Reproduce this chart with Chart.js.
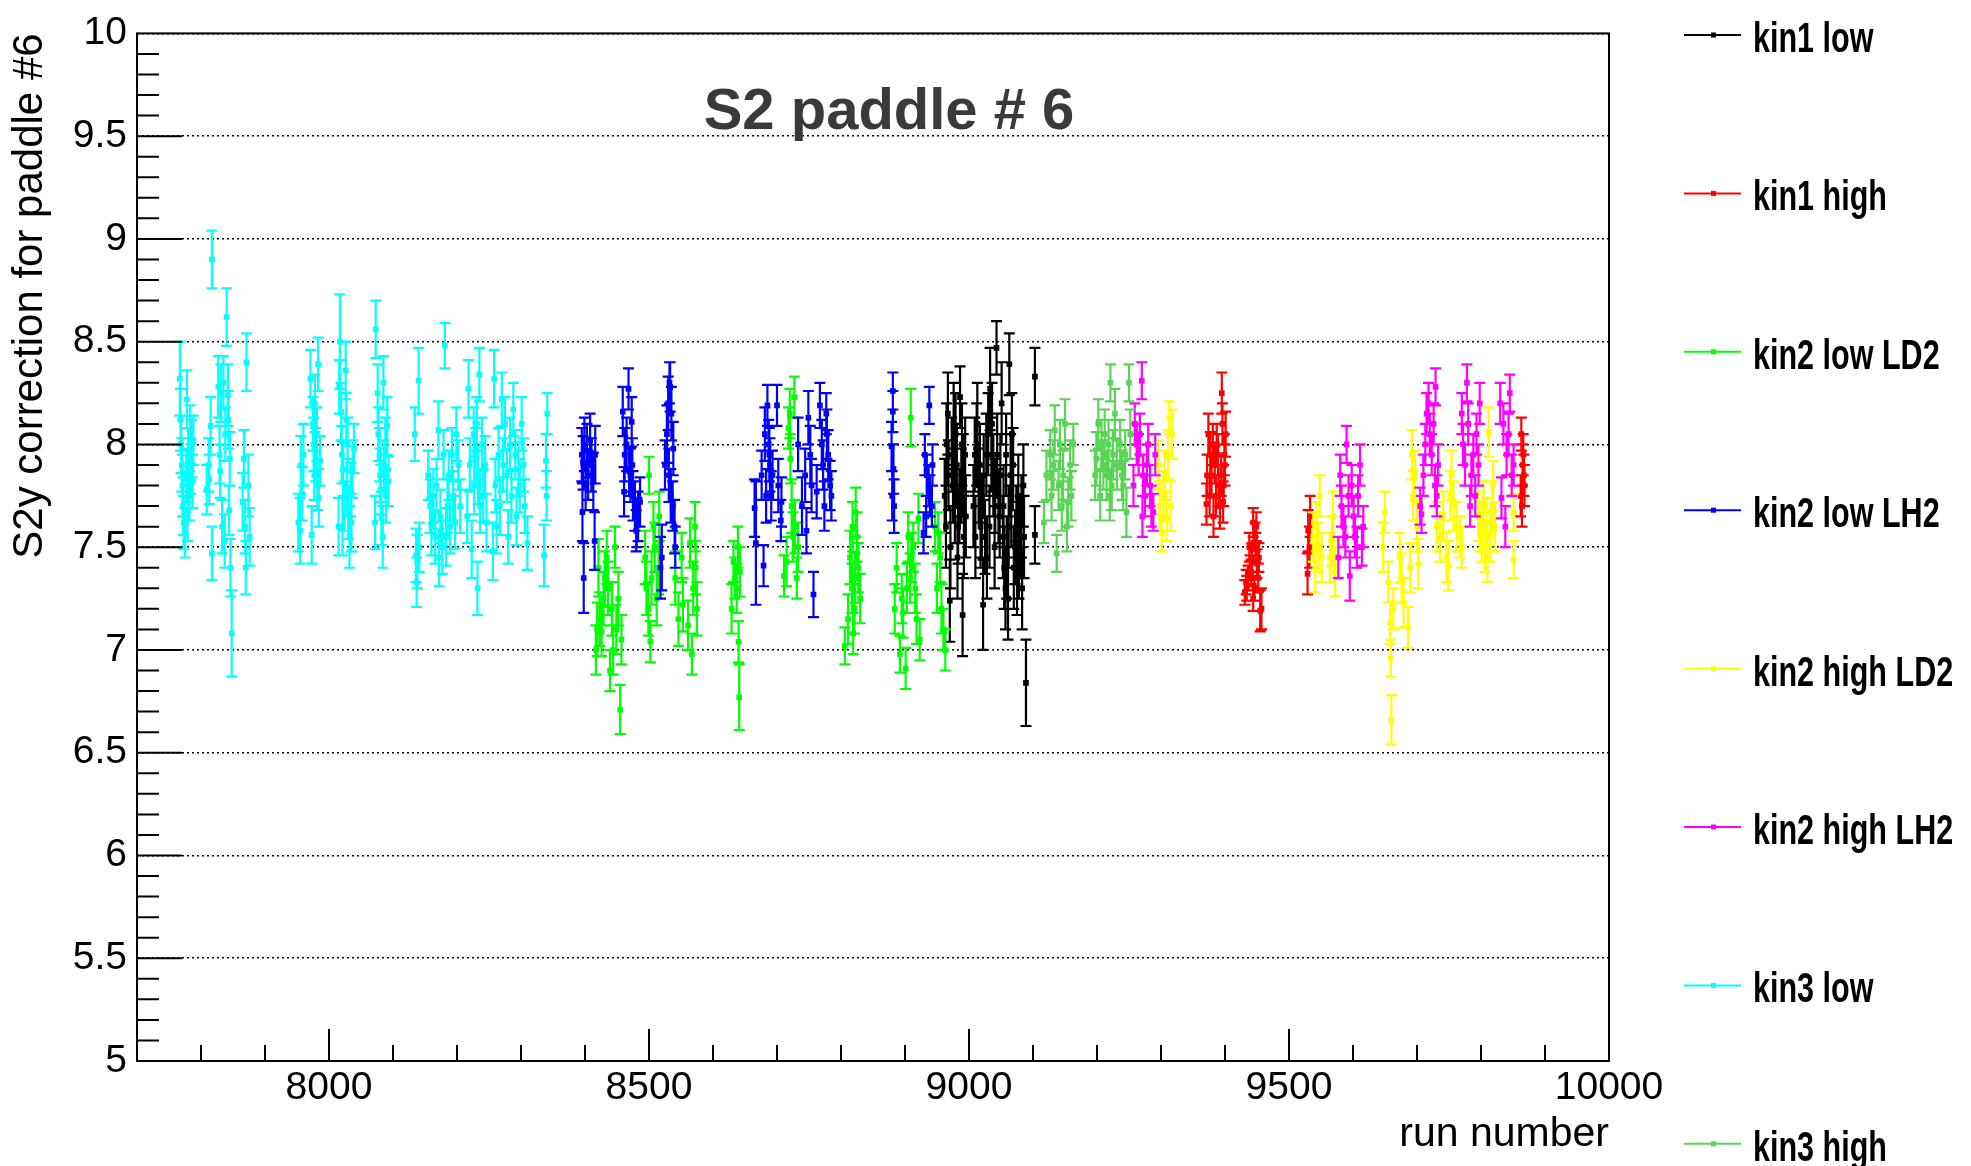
<!DOCTYPE html>
<html>
<head>
<meta charset="utf-8">
<script src="https://cdn.jsdelivr.net/npm/chart.js@4.4.1/dist/chart.umd.min.js"></script>
<style>
  html, body { margin: 0; padding: 0; background: #fff; }
  #wrap { width: 1971px; height: 1166px; }
</style>
</head>
<body>
<div id="wrap"><canvas id="c" width="1971" height="1166"></canvas></div>
<script>
// ---------------- DATA ----------------
const chartTitle = 'S2 paddle # 6';
const xAxisTitle = 'run number';
const yAxisTitle = 'S2y correction for paddle #6';
const xTickValues = [8000, 8500, 9000, 9500, 10000];
const yTickValues = [5, 5.5, 6, 6.5, 7, 7.5, 8, 8.5, 9, 9.5, 10];
const seriesNames = ['kin1 low', 'kin1 high', 'kin2 low LD2', 'kin2 low LH2',
                     'kin2 high LD2', 'kin2 high LH2', 'kin3 low', 'kin3 high'];
const seriesColors = ['#000000', '#ff0000', '#00ff00', '#0000ff',
                      '#ffff00', '#ff00ff', '#00ffff', '#59d454'];

// kin1 low
const kin1LowRuns = [8962,8965,8968,8970,8973,8976,8978,8981,8983,8986,8988,8990,8992,8994,
  9007,9009,9012,9015,9017,9020,9022,9025,9028,9030,9033,9035,9038,9041,9043,9046,9048,9051,9053,9055,
  9057,9059,9062,9063,9065,9067,9069,9072,9075,9077,9080,9082,9085,9089,9103,9103,
  8964,8967,8971,8975,8979,8982,8985,8989,8991,8995,9010,9013,9018,9023,9027,9032,9036,9040,9044,
  9049,9054,9058,9061,9066,9070,9074,9078,9083,9086];
const kin1LowVals = [7.75,8.0,7.85,7.24,7.95,8.1,7.7,7.9,7.6,8.23,7.8,7.17,7.55,7.95,
  7.7,7.95,8.0,7.8,7.9,7.65,7.22,7.55,7.45,8.05,8.27,7.95,7.85,7.75,8.47,7.7,7.65,8.2,7.55,7.4,
  7.3,7.45,7.6,8.39,7.85,8.05,7.9,7.5,7.35,7.75,7.55,7.65,7.8,6.84,8.33,7.56,
  7.6,8.15,7.5,7.8,8.05,7.45,7.7,8.0,7.85,7.65,7.55,8.1,7.6,7.85,7.95,7.6,8.1,7.5,7.95,
  7.85,7.7,7.95,7.25,7.7,7.4,7.6,7.45,7.3,7.55];
const kin1LowErrs = [0.18,0.2,0.17,0.2,0.18,0.2,0.18,0.2,0.18,0.15,0.18,0.2,0.2,0.18,
  0.2,0.18,0.2,0.18,0.2,0.2,0.22,0.18,0.2,0.2,0.2,0.18,0.2,0.18,0.13,0.18,0.2,0.2,0.2,0.2,
  0.2,0.2,0.2,0.15,0.2,0.2,0.18,0.18,0.18,0.2,0.2,0.2,0.2,0.21,0.14,0.14,
  0.2,0.2,0.2,0.18,0.2,0.2,0.18,0.2,0.2,0.2,0.2,0.2,0.2,0.2,0.2,0.2,0.2,0.2,0.2,
  0.2,0.2,0.2,0.2,0.2,0.2,0.2,0.2,0.2,0.2];

// kin1 high
const kin1HighRuns = [9371,9374,9377,9379,9382,9384,9387,9390,9392,9395,9396,9397,9399,9401,
  9431,9434,9436,9439,9442,9444,9444,9447,9448,9450,9452,9455,9457,
  9529,9530,9532,9533,
  9862,9863,9864,9865,9866,9867,9868,
  9433,9438,9441,9446,9449,9453,
  9372,9376,9381,9386,9389,9394,9398,9400];
const kin1HighVals = [7.71,8.05,7.95,7.85,7.65,7.9,8.0,7.8,7.7,8.25,8.1,7.72,7.95,8.05,
  7.28,7.3,7.35,7.4,7.45,7.62,7.25,7.55,7.5,7.42,7.35,7.19,7.2,
  7.37,7.58,7.5,7.65,
  7.75,8.05,7.7,7.9,7.95,7.85,7.8,
  7.33,7.5,7.38,7.3,7.6,7.45,
  7.85,7.75,8.0,7.75,7.95,7.85,7.8,7.9];
const kin1HighErrs = [0.1,0.1,0.11,0.1,0.1,0.09,0.1,0.1,0.11,0.1,0.1,0.1,0.1,0.11,
  0.06,0.06,0.06,0.06,0.07,0.07,0.06,0.07,0.07,0.07,0.07,0.1,0.1,
  0.1,0.1,0.1,0.1,
  0.1,0.08,0.1,0.1,0.1,0.1,0.1,
  0.06,0.07,0.06,0.06,0.07,0.07,
  0.1,0.1,0.1,0.1,0.1,0.1,0.1,0.1];

// kin2 low LD2
const kin2LowLD2Runs = [8417,8419,8421,8423,8426,8429,8431,8434,8436,8439,8442,8444,8447,8449,8452,8455,8457,
  8494,8496,8499,8500,8502,8504,8507,8509,8512,8515,8516,
  8541,8546,8551,8553,8561,8564,8567,8569,8572,8573,8575,
  8629,8632,8634,8637,8639,8640,8641,8642,
  8711,8715,8718,8720,8721,8723,8725,8727,8728,8731,8733,
  8806,8811,8814,8817,8818,8819,8821,8822,8823,8825,8827,8830,
  8884,8887,8892,8895,8897,8901,8903,8905,8908,8909,8910,8913,8916,8918,8921,8923,
  8947,8950,8952,8955,8957,8960,8963];
const kin2LowLD2Vals = [7.0,7.1,7.4,7.15,7.09,7.25,7.35,7.45,7.3,6.9,7.2,7.0,7.5,7.1,7.25,6.71,7.05,
  7.45,7.3,7.2,7.85,7.04,7.35,7.6,7.5,7.25,7.4,7.65,
  7.35,7.15,7.45,7.22,7.12,7.52,6.98,7.3,7.6,7.4,7.2,
  7.2,7.43,7.35,7.3,7.5,7.04,6.77,7.38,
  7.36,7.43,8.08,8.15,7.93,7.7,7.55,8.23,7.6,7.35,7.5,
  7.02,7.15,7.45,7.3,7.6,7.08,7.2,7.35,7.67,7.55,7.4,7.25,
  7.2,7.4,6.98,7.25,7.18,6.91,7.3,7.55,7.35,8.13,7.45,7.5,7.3,7.15,7.64,7.05,
  7.6,7.3,7.57,7.45,7.2,7.1,7.0];
const kin2LowLD2Errs = [0.12,0.13,0.14,0.13,0.12,0.13,0.13,0.13,0.13,0.1,0.13,0.12,0.1,0.12,0.13,0.12,0.12,
  0.13,0.13,0.13,0.09,0.1,0.13,0.12,0.12,0.13,0.13,0.12,
  0.13,0.13,0.12,0.13,0.12,0.12,0.1,0.13,0.12,0.13,0.13,
  0.12,0.1,0.1,0.12,0.1,0.1,0.16,0.12,
  0.1,0.12,0.1,0.12,0.12,0.13,0.12,0.1,0.13,0.1,0.12,
  0.09,0.12,0.13,0.12,0.12,0.1,0.12,0.12,0.12,0.12,0.12,0.12,
  0.12,0.12,0.09,0.12,0.12,0.1,0.12,0.12,0.12,0.14,0.12,0.12,0.12,0.12,0.12,0.1,
  0.12,0.12,0.1,0.12,0.12,0.1,0.1];

// kin2 low LH2
const kin2LowLH2Runs = [8395,8396,8397,8398,8399,8401,8403,8405,8408,8410,8413,8415,8416,
  8459,8461,8462,8465,8468,8469,8471,8473,8474,8475,8478,8480,8481,8483,8486,
  8518,8520,8525,8528,8530,8531,8532,8533,8534,8535,8537,8538,8540,8541,
  8665,8667,8676,8679,8681,8683,8685,8687,8688,8689,8691,8693,8700,8702,8706,8707,
  8733,8739,8744,8746,8749,8752,8754,8757,8762,8767,8770,8772,8774,8777,8778,8780,8783,8785,
  8879,8880,8881,8881,8882,8883,
  8929,8931,8933,8934,8937,8938,8939,8942,8943];
const kin2LowLH2Vals = [7.95,7.67,7.91,7.35,8.0,7.8,7.97,7.85,8.02,7.9,7.82,7.53,7.95,
  8.16,7.77,7.95,8.0,8.27,7.87,7.85,8.11,7.9,7.75,7.7,7.58,7.62,7.65,7.72,
  7.4,7.45,7.9,8.05,8.2,7.85,8.3,8.28,7.75,8.15,7.7,7.98,7.6,7.5,
  7.69,7.52,7.85,7.41,8.05,7.75,8.19,8.0,7.95,7.9,7.75,7.85,8.19,7.8,7.63,7.72,
  8.0,7.7,7.85,7.58,8.13,7.95,7.8,7.27,7.77,8.19,8.0,7.9,7.7,8.15,8.05,7.95,7.8,7.75,
  7.99,7.75,8.26,8.16,7.88,7.7,
  7.57,7.95,7.65,7.85,7.8,8.19,7.75,7.7,7.9];
const kin2LowLH2Errs = [0.13,0.14,0.13,0.17,0.13,0.12,0.13,0.12,0.13,0.13,0.14,0.14,0.14,
  0.12,0.12,0.13,0.13,0.1,0.12,0.13,0.12,0.13,0.12,0.12,0.1,0.12,0.12,0.12,
  0.15,0.16,0.12,0.14,0.13,0.13,0.1,0.12,0.13,0.13,0.12,0.13,0.13,0.1,
  0.14,0.3,0.12,0.1,0.13,0.13,0.1,0.12,0.13,0.13,0.12,0.12,0.1,0.13,0.1,0.12,
  0.13,0.14,0.13,0.11,0.13,0.14,0.13,0.11,0.13,0.11,0.12,0.12,0.12,0.1,0.12,0.12,0.12,0.12,
  0.12,0.12,0.09,0.1,0.12,0.13,
  0.1,0.1,0.1,0.1,0.1,0.09,0.1,0.1,0.1];

// kin2 high LD2
const kin2HighLD2Runs = [9296,9298,9301,9304,9306,9309,9311,9313,9315,9317,
  9538,9541,9543,9546,9548,9551,9564,9567,9569,9572,
  9647,9650,9655,9658,9659,9660,9663,9673,9676,9679,9686,9689,9692,9694,9697,9700,9702,
  9731,9736,9741,9746,9749,9752,9754,9757,9762,9767,9770,
  9796,9798,9801,9804,9806,9809,9810,9812,9814,9817,9819,9822,
  9851,9851];
const kin2HighLD2Vals = [7.9,7.7,7.57,7.75,7.85,7.65,7.95,8.13,7.7,8.05,
  7.55,7.4,7.6,7.5,7.75,7.45,7.45,7.53,7.65,7.38,
  7.5,7.67,7.33,7.13,6.96,6.66,7.2,7.45,7.35,7.23,7.11,7.4,7.95,7.75,7.85,7.6,7.42,
  7.6,7.55,7.65,7.45,7.41,7.75,7.85,7.7,7.6,7.55,7.5,
  7.65,7.6,7.55,7.7,7.5,7.62,7.45,8.06,7.55,7.7,7.8,7.6,
  7.67,7.44];
const kin2HighLD2Errs = [0.12,0.12,0.09,0.12,0.12,0.12,0.12,0.08,0.12,0.12,
  0.12,0.12,0.12,0.12,0.1,0.12,0.12,0.12,0.12,0.12,
  0.12,0.1,0.1,0.1,0.09,0.12,0.1,0.12,0.12,0.12,0.1,0.12,0.12,0.12,0.12,0.12,0.12,
  0.12,0.12,0.12,0.12,0.12,0.12,0.12,0.12,0.12,0.1,0.1,
  0.12,0.12,0.12,0.12,0.12,0.12,0.12,0.12,0.12,0.12,0.12,0.12,
  0.09,0.09];

// kin2 high LH2
const kin2HighLH2Runs = [9257,9259,9262,9265,9267,9270,9271,9272,9275,9278,9280,9283,9285,9288,9291,
  9577,9580,9582,9585,9588,9590,9593,9595,9598,9601,9603,9606,9608,9611,9614,9616,
  9705,9707,9710,9713,9715,9718,9720,9723,9726,9728,9729,9731,9733,
  9770,9772,9775,9778,9780,9783,9785,9788,9791,9793,9796,9798,
  9830,9832,9835,9838,9840,9843,9845,9848,9851];
const kin2HighLH2Vals = [7.8,8.1,8.0,7.95,8.05,8.31,7.65,7.85,7.75,7.9,8.0,7.8,7.7,7.67,7.95,
  7.45,7.85,7.7,7.6,7.55,8.0,7.75,7.36,7.8,7.65,7.55,7.5,7.75,7.9,7.5,7.6,
  7.7,7.66,7.85,8.0,8.15,8.2,8.05,7.95,8.1,7.8,8.28,7.75,7.9,
  8.15,8.0,7.9,8.3,8.1,7.7,7.85,7.95,7.75,8.05,7.9,8.2,
  8.2,7.74,8.1,7.6,7.95,8.05,8.25,7.85,7.9];
const kin2HighLH2Errs = [0.1,0.1,0.1,0.1,0.1,0.09,0.1,0.1,0.1,0.1,0.1,0.1,0.1,0.09,0.1,
  0.1,0.1,0.1,0.1,0.1,0.09,0.1,0.12,0.1,0.1,0.1,0.1,0.1,0.1,0.09,0.1,
  0.09,0.09,0.1,0.1,0.1,0.1,0.1,0.1,0.1,0.1,0.09,0.1,0.1,
  0.1,0.1,0.1,0.09,0.1,0.1,0.1,0.1,0.1,0.1,0.1,0.1,
  0.1,0.1,0.1,0.1,0.1,0.1,0.09,0.1,0.1];

// kin3 low
const kin3LowRuns = [7767,7768,7769,7770,7771,7772,7773,7775,7777,7778,7779,7780,7782,7783,7784,7785,7787,7788,
  7809,7812,7813,7815,7817,7817,7827,7829,7830,7831,7833,7835,7837,7838,7840,7842,7843,7844,7845,7846,7848,
  7865,7867,7869,7870,7871,7874,7876,
  7952,7955,7956,7958,7960,7971,7973,7975,7976,7977,7978,7979,7981,7982,7983,7984,7986,
  8015,8016,8017,8019,8020,8021,8022,8024,8026,8027,8028,8029,8030,8032,8034,8035,8037,8039,
  8072,8073,8076,8077,8079,8080,8081,8082,8084,8085,8086,8088,8089,8091,8093,
  8134,8136,8137,8138,8140,8141,
  8155,8158,8160,8163,8166,8168,8171,8172,8174,8177,8179,8181,8183,8185,8187,8189,8192,8194,8197,8199,8202,8205,
  8216,8218,8220,8223,8226,8227,8229,8231,8232,8233,8235,8236,8239,8241,8244,8246,
  8256,8258,8260,8262,8265,8267,8270,8272,8275,8278,8280,8283,8285,8288,8291,8293,8296,8298,8301,8304,8306,8310,
  8336,8339,8340,8341];
const kin3LowVals = [8.32,8.12,8.0,7.9,7.8,7.7,7.62,7.57,7.85,8.22,7.68,7.95,7.75,8.05,7.88,7.98,7.82,8.02,
  7.78,7.9,7.83,8.09,8.9,7.47,8.28,7.95,7.87,8.25,7.6,8.3,7.53,8.05,8.62,8.24,8.12,7.68,7.93,7.4,7.08,
  7.72,7.93,7.6,7.4,8.4,7.8,7.55,
  7.62,7.58,7.9,7.76,7.95,8.32,7.56,8.1,8.0,7.85,8.2,7.95,8.05,7.8,8.39,7.74,7.92,
  7.6,8.28,8.5,8.16,7.95,7.6,7.88,7.7,8.36,8.12,7.79,8.0,7.67,7.55,7.78,7.62,7.88,7.98,
  7.62,8.56,8.25,8.05,7.95,7.85,7.78,7.64,7.55,8.3,7.9,8.0,7.75,8.09,7.82,
  8.05,7.46,7.33,7.43,8.31,7.5,
  7.85,7.7,7.6,7.75,7.55,7.8,8.07,7.45,7.65,7.5,7.95,8.48,7.55,7.7,7.85,7.6,7.95,7.75,7.62,8.05,7.9,7.7,
  7.65,8.27,7.9,7.49,8.05,7.8,7.95,8.1,7.3,7.85,8.34,7.7,8.0,7.75,7.9,7.62,
  7.48,8.32,7.8,7.6,7.95,7.7,8.22,7.9,8.1,7.85,7.55,8.0,7.75,8.17,7.95,7.65,7.88,7.8,8.1,7.9,7.7,7.52,
  7.46,7.92,7.75,8.15];
const kin3LowErrs = [0.18,0.15,0.14,0.13,0.15,0.14,0.13,0.12,0.13,0.14,0.15,0.13,0.12,0.14,0.12,0.14,0.13,0.12,
  0.12,0.13,0.12,0.14,0.14,0.13,0.15,0.14,0.13,0.14,0.13,0.13,0.13,0.13,0.14,0.15,0.14,0.12,0.13,0.14,0.21,
  0.14,0.14,0.13,0.13,0.14,0.15,0.14,
  0.14,0.16,0.14,0.13,0.15,0.14,0.14,0.13,0.13,0.12,0.14,0.13,0.13,0.12,0.13,0.14,0.12,
  0.14,0.13,0.23,0.14,0.14,0.14,0.13,0.12,0.14,0.13,0.14,0.13,0.13,0.15,0.13,0.14,0.14,0.12,
  0.13,0.14,0.14,0.13,0.13,0.13,0.12,0.13,0.15,0.13,0.12,0.13,0.13,0.14,0.12,
  0.13,0.13,0.12,0.13,0.16,0.12,
  0.12,0.13,0.14,0.13,0.13,0.13,0.14,0.14,0.13,0.13,0.12,0.11,0.14,0.13,0.12,0.13,0.13,0.12,0.13,0.13,0.12,0.13,
  0.13,0.14,0.13,0.14,0.13,0.14,0.13,0.13,0.13,0.14,0.13,0.13,0.13,0.13,0.14,0.14,
  0.14,0.14,0.13,0.13,0.13,0.14,0.13,0.13,0.13,0.13,0.13,0.13,0.13,0.13,0.12,0.14,0.13,0.13,0.13,0.13,0.13,0.13,
  0.15,0.13,0.12,0.1];

// kin3 high
const kin3HighRuns = [9117,9121,9127,9129,9132,9134,9137,9140,9142,9145,9147,9150,9153,9155,9158,9160,9163,
  9197,9199,9202,9205,9207,9210,9212,9215,9218,9220,9221,9223,9225,9228,9231,9236,9239,9241,9244,9246,9250,9252];
const kin3HighVals = [7.62,7.85,7.95,7.75,7.9,8.07,7.47,7.8,8.0,7.7,7.85,8.1,7.6,7.72,7.9,7.75,8.0,
  7.85,7.93,8.1,7.75,8.0,7.9,8.05,7.85,8.0,7.75,8.3,7.8,7.95,8.15,7.9,8.0,7.85,7.8,7.95,7.67,8.3,8.05];
const kin3HighErrs = [0.1,0.12,0.12,0.12,0.12,0.12,0.09,0.12,0.12,0.12,0.12,0.12,0.12,0.12,0.12,0.12,0.1,
  0.12,0.13,0.12,0.12,0.12,0.12,0.12,0.12,0.12,0.12,0.09,0.12,0.12,0.12,0.12,0.12,0.12,0.12,0.12,0.12,0.09,0.12];

const seriesRuns = [kin1LowRuns, kin1HighRuns, kin2LowLD2Runs, kin2LowLH2Runs, kin2HighLD2Runs, kin2HighLH2Runs, kin3LowRuns, kin3HighRuns];
const seriesVals = [kin1LowVals, kin1HighVals, kin2LowLD2Vals, kin2LowLH2Vals, kin2HighLD2Vals, kin2HighLH2Vals, kin3LowVals, kin3HighVals];
const seriesErrs = [kin1LowErrs, kin1HighErrs, kin2LowLD2Errs, kin2LowLH2Errs, kin2HighLD2Errs, kin2HighLH2Errs, kin3LowErrs, kin3HighErrs];

// ---------------- STYLE ----------------
const FONT = "'Liberation Sans', Arial, Helvetica, sans-serif";

const datasets = seriesNames.map((name, i) => ({
  label: name,
  data: seriesRuns[i].map((r, j) => ({ x: r, y: seriesVals[i][j] })),
  errors: seriesErrs[i],
  showLine: false,
  pointStyle: 'rect',
  pointRadius: 4,
  pointHoverRadius: 4,
  borderWidth: 0,
  backgroundColor: seriesColors[i],
  borderColor: seriesColors[i],
  order: seriesNames.length - i
}));

const errorBarPlugin = {
  id: 'errorBars',
  beforeDatasetDraw(chart, args) {
    const ds = chart.data.datasets[args.index];
    const ys = chart.scales.y;
    const ctx = chart.ctx;
    const a = chart.chartArea;
    ctx.save();
    ctx.beginPath();
    ctx.rect(a.left, a.top, a.right - a.left, a.bottom - a.top);
    ctx.clip();
    ctx.beginPath();
    ctx.strokeStyle = ds.borderColor;
    ctx.lineWidth = 2.2;
    args.meta.data.forEach((pt, j) => {
      const e = ds.errors[j];
      if (e === undefined) return;
      const v = ds.data[j].y;
      const yt = ys.getPixelForValue(v + e);
      const yb = ys.getPixelForValue(v - e);
      const x = pt.x;
      ctx.moveTo(x, yt); ctx.lineTo(x, yb);
      ctx.moveTo(x - 5.5, yt); ctx.lineTo(x + 5.5, yt);
      ctx.moveTo(x - 5.5, yb); ctx.lineTo(x + 5.5, yb);
    });
    ctx.stroke();
    ctx.restore();
  }
};

const framePlugin = {
  id: 'frameTicks',
  afterDatasetsDraw(chart) {
    const ctx = chart.ctx;
    const a = chart.chartArea;
    const xs = chart.scales.x, ys = chart.scales.y;
    ctx.save();
    ctx.strokeStyle = '#000';
    ctx.lineWidth = 2;
    ctx.strokeRect(a.left, a.top, a.right - a.left, a.bottom - a.top);
    ctx.beginPath();
    // x ticks (inward, upward)
    for (let v = Math.ceil(xs.min / 100) * 100; v < xs.max; v += 100) {
      const px = xs.getPixelForValue(v);
      const len = (v % 500 === 0) ? 32 : 16;
      ctx.moveTo(px, a.bottom); ctx.lineTo(px, a.bottom - len);
    }
    // y ticks (inward, rightward)
    for (let k = 1; k < Math.round((ys.max - ys.min) * 10); k++) {
      const v = ys.min + k / 10;
      const py = ys.getPixelForValue(v);
      const len = (k % 5 === 0) ? 45 : 22;
      ctx.moveTo(a.left, py); ctx.lineTo(a.left + len, py);
    }
    ctx.stroke();
    // chart title
    ctx.fillStyle = '#3a3a3a';
    ctx.font = 'bold 58px ' + FONT;
    ctx.textAlign = 'center';
    ctx.textBaseline = 'alphabetic';
    ctx.fillText(chartTitle, 889, 129);
    ctx.restore();
  }
};

const legendPlugin = {
  id: 'rootLegend',
  afterDraw(chart) {
    const ctx = chart.ctx;
    ctx.save();
    chart.data.datasets.forEach((ds, i) => {
      const y = 35 + i * 158.4;
      ctx.strokeStyle = ds.borderColor;
      ctx.lineWidth = 2;
      ctx.beginPath();
      ctx.moveTo(1684, y); ctx.lineTo(1741, y);
      ctx.stroke();
      ctx.fillStyle = ds.borderColor;
      ctx.fillRect(1711, y - 2.5, 5, 5);
      ctx.save();
      ctx.translate(1753, y + 17);
      ctx.scale(0.71, 1);
      ctx.fillStyle = '#000';
      ctx.font = 'bold 43px ' + FONT;
      ctx.textAlign = 'left';
      ctx.textBaseline = 'alphabetic';
      ctx.fillText(ds.label, 0, 0);
      ctx.restore();
    });
    ctx.restore();
  }
};

new Chart(document.getElementById('c'), {
  type: 'scatter',
  data: { datasets },
  plugins: [errorBarPlugin, framePlugin, legendPlugin],
  options: {
    responsive: false,
    animation: false,
    events: [],
    layout: { padding: { left: 0, right: 362, top: 29, bottom: 0 } },
    plugins: { legend: { display: false }, tooltip: { enabled: false }, title: { display: false } },
    scales: {
      x: {
        type: 'linear', min: 7700, max: 10000,
        afterBuildTicks: (s) => { s.ticks = xTickValues.map(v => ({ value: v })); },
        afterFit: (s) => { s.height = 105; },
        grid: { drawOnChartArea: false, drawTicks: false },
        border: { display: false },
        ticks: { color: '#000', font: { family: FONT, size: 39 }, padding: 4, maxRotation: 0, autoSkip: false,
                 callback: (v) => String(v) },
        title: { display: true, text: xAxisTitle, align: 'end', color: '#000',
                 font: { family: FONT, size: 41 }, padding: { top: 0, bottom: 7 } }
      },
      y: {
        type: 'linear', min: 5, max: 10,
        afterBuildTicks: (s) => { s.ticks = yTickValues.map(v => ({ value: v })); },
        afterFit: (s) => { s.width = 137; },
        grid: { color: '#000', lineWidth: 1.6, drawTicks: false },
        border: { display: false, dash: [2, 3] },
        ticks: { color: '#000', font: { family: FONT, size: 39 }, padding: 10,
                 callback: (v) => String(v) },
        title: { display: true, text: yAxisTitle, align: 'end', color: '#000',
                 font: { family: FONT, size: 42 }, padding: { top: 5, bottom: 0 } }
      }
    }
  }
});
</script>
</body>
</html>
